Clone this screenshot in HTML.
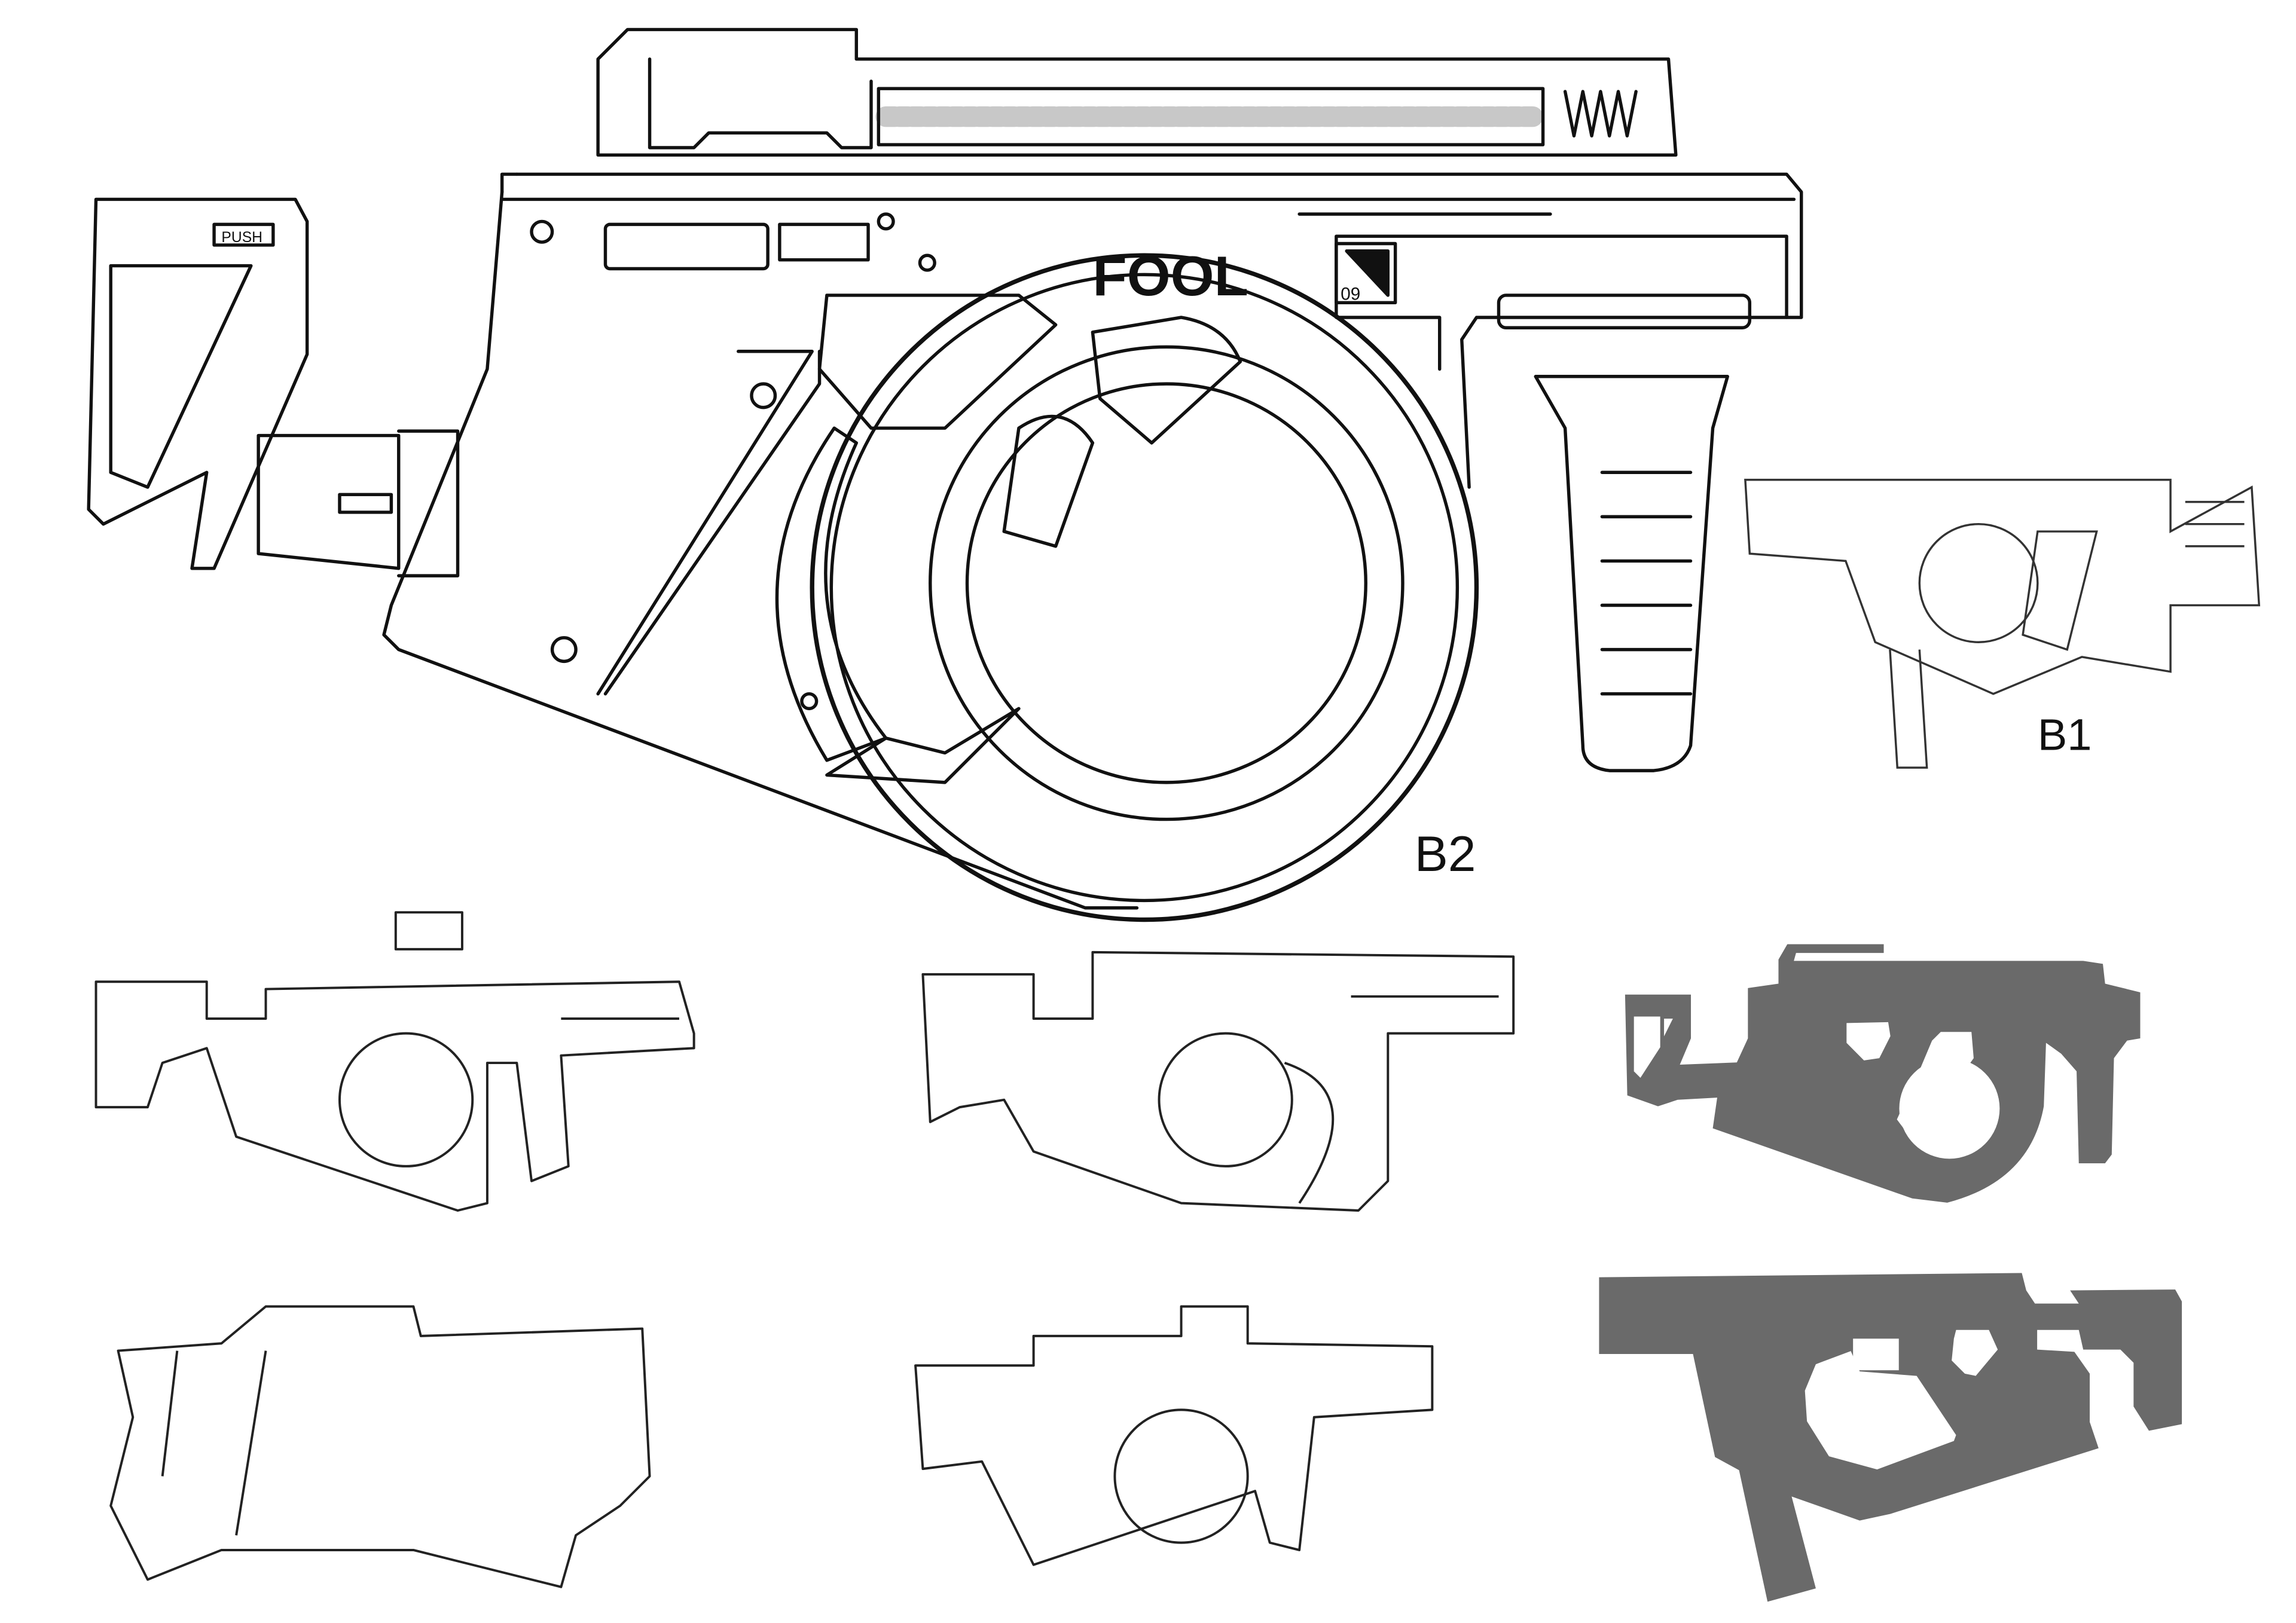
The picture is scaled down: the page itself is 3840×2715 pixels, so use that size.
<!DOCTYPE html>
<html><head><meta charset="utf-8"><style>
html,body{margin:0;padding:0;background:#fff;}
svg{display:block;}
text{font-family:"Liberation Sans",sans-serif;}
</style></head><body>
<svg width="3840" height="2715" viewBox="0 0 1555 1099.4" xmlns="http://www.w3.org/2000/svg">
<rect width="1555" height="1100" fill="#fff"/>
<g fill="none" stroke="#111" stroke-width="2.2" stroke-linejoin="round" stroke-linecap="round">
<path d="M425 20 L580 20 L580 40 L1130 40 L1135 105 L405 105 L405 40 L425 20 Z"/>
<path d="M440 40 L440 100 L470 100 L480 90 L560 90 L570 100 L590 100 L590 55"/>
<rect x="595" y="60" width="450" height="38"/>
<path d="M600 79 h440" stroke-dasharray="6 3" stroke-width="14" stroke="#222" opacity="0.25"/>
<path d="M1060 62 l6 30 l6 -30 l6 30 l6 -30 l6 30 l6 -30 l6 30 l6 -30"/>
<path d="M350 118 L1210 118 L1220 130 L1220 215 L1000 215 L990 230 L995 330"/>
<path d="M340 130 L340 118 L350 118"/>
<path d="M340 130 L330 250 L265 410 L260 430 L270 440 L735 615 L770 615"/>
<path d="M340 135 L1215 135"/>
<rect x="410" y="152" width="110" height="30" rx="3"/>
<rect x="528" y="152" width="60" height="24"/>
<path d="M905 160 L1210 160 L1210 215 M905 160 L905 215 L975 215 L975 250"/>
<rect x="905" y="165" width="40" height="40"/>
<path d="M912 170 L940 170 L940 200 Z" fill="#111"/>
<rect x="1015" y="200" width="170" height="22" rx="5"/>
<text x="740" y="200" font-size="38" font-weight="bold" fill="#111" stroke="none">FOOL</text>
<text x="908" y="203" font-size="12" fill="#111" stroke="none">09</text>
<path d="M880 145 L1050 145"/>
<path d="M500 238 L550 238 L405 470 M555 238 L555 260 L410 470"/>
<circle cx="367" cy="157" r="7"/><circle cx="600" cy="150" r="5"/><circle cx="628" cy="178" r="5"/>
<circle cx="517" cy="268" r="8"/><circle cx="382" cy="440" r="8"/><circle cx="548" cy="475" r="5"/>
<circle cx="775" cy="398" r="225" stroke-width="3"/>
<circle cx="775" cy="398" r="212"/>
<circle cx="790" cy="395" r="160"/>
<circle cx="790" cy="395" r="135"/>
<path d="M560 200 L690 200 L715 220 L640 290 L590 290 L555 250 Z"/>
<path d="M580 300 Q530 410 600 500 L560 515 Q490 400 565 290 Z"/>
<path d="M600 500 L640 510 L690 480 L640 530 L560 525 Z"/>
<path d="M690 290 Q720 270 740 300 L715 370 L680 360 Z"/>
<path d="M740 225 L800 215 Q830 220 840 245 L780 300 L745 270 Z"/>
<path d="M1040 255 L1170 255 L1160 290 L1145 505 Q1140 520 1120 522 L1090 522 Q1072 520 1072 505 L1060 290 Z"/>
<path d="M1085 320 h60 M1085 350 h60 M1085 380 h60 M1085 410 h60 M1085 440 h60 M1085 470 h60"/>
<path d="M65 135 L200 135 L208 150 L208 240 L145 385 L130 385 L140 320 L70 355 L60 345 Z"/>
<path d="M75 180 L170 180 L100 330 L75 320 Z"/>
<rect x="145" y="152" width="40" height="14"/>
<text x="150" y="164" font-size="10" fill="#111" stroke="none">PUSH</text>
<path d="M175 295 L270 295 L270 385 L175 375 Z M270 292 L310 292 L310 390 L270 390"/>
<path d="M230 335 h35 v12 h-35 z"/>
</g>
<text x="958" y="590" font-size="34" fill="#111" font-family="Liberation Sans">B2</text>
<text x="1380" y="508" font-size="30" fill="#111" font-family="Liberation Sans">B1</text>
<g fill="none" stroke="#333" stroke-width="1.4">
<path d="M1182 325 L1470 325 L1470 360 L1525 330 L1530 410 L1470 410 L1470 455 L1410 445 L1350 470 L1270 435 L1250 380 L1185 375 Z"/>
<path d="M1280 440 L1285 520 L1305 520 L1300 440"/>
<circle cx="1340" cy="395" r="40"/>
<path d="M1380 360 L1420 360 L1400 440 L1370 430 Z"/>
<path d="M1480 340 h40 M1480 355 h40 M1480 370 h40"/>
</g>
<g fill="none" stroke="#222" stroke-width="1.6" stroke-linejoin="round">
<path d="M65 665 L140 665 L140 690 L180 690 L180 670 L460 665 L470 700 L470 710 L380 715 L385 790 L360 800 L350 720 L330 720 L330 815 L310 820 L160 770 L140 710 L110 720 L100 750 L65 750 Z"/>
<rect x="268" y="618" width="45" height="25"/>
<circle cx="275" cy="745" r="45"/>
<path d="M380 690 h80"/>
<path d="M625 660 L700 660 L700 690 L740 690 L740 645 L1025 648 L1025 700 L940 700 L940 800 L920 820 L800 815 L700 780 L680 745 L650 750 L630 760 Z"/>
<circle cx="830" cy="745" r="45"/>
<path d="M870 720 Q930 740 880 815" />
<path d="M915 675 h100"/>
<path d="M80 915 L150 910 L180 885 L280 885 L285 905 L435 900 L440 1000 L420 1020 L390 1040 L380 1075 L280 1050 L150 1050 L100 1070 L75 1020 L90 960 Z"/>
<path d="M120 915 L110 1000 M180 915 L160 1040"/>
<path d="M620 925 L700 925 L700 905 L800 905 L800 885 L845 885 L845 910 L970 912 L970 955 L890 960 L880 1050 L860 1045 L850 1010 L700 1060 L680 1020 L665 990 L625 995 Z"/>
<circle cx="800" cy="1000" r="45"/>
</g>
<g fill="#6a6a6a">
<path d="M1100.6 673.7 L1145.2 673.7 L1145.2 703.4 L1137.7 721.2 L1176.3 719.7 L1183.8 703.4 L1183.8 669.3 L1204.5 666.3 L1204.5 650 L1210.5 639.6 L1275.8 639.6 L1275.8 645.5 L1216.4 645.5 L1214.9 650.9 L1410.9 650.9 L1424.2 652.9 L1425.7 666.3 L1449.5 672.2 L1449.5 703.4 L1440.6 704.9 L1431.7 716.8 L1430.2 782.1 L1425.7 788 L1407.9 788 L1406.4 725.7 L1396 713.8 L1385.7 706.4 L1384.2 749.4 Q1375 800 1318.8 814.7 L1295.1 811.8 L1160 764.3 L1163 743.5 L1136.2 745 L1122.9 749.4 L1102.1 742 Z"/>
<path d="M1083 865.2 L1369.3 862.3 L1372.3 874.1 L1378.2 883 L1407.9 883 L1402 874.1 L1473.2 873.5 L1477.7 881.6 L1477.7 964.7 L1455.4 969.2 L1445 952.8 L1445 923.1 L1436.1 914.2 L1410.9 914.2 L1407.9 900.9 L1379.7 900.9 L1379.7 914.2 L1404.9 915.7 L1415.3 930.5 L1415.3 963.2 L1421.3 981 L1280.3 1025.5 L1259.5 1030 L1213.4 1013.7 L1229.8 1076 L1197.1 1085 L1177.8 995.9 L1161.5 987 L1146.6 917.2 L1083 917.2 Z"/>
</g>
<g fill="#fff">
<path d="M1106.6 688.6 L1124.4 688.6 L1124.4 709.4 L1111 730.1 L1106.6 725.7 Z"/>
<path d="M1127 690 L1133 690 L1127 702 Z"/>
<path d="M1250.6 693 L1278.8 692.4 L1280.3 701.9 L1272.8 716.8 L1262.4 718.3 L1250.6 706.4 Z"/>
<circle cx="1320.3" cy="750.9" r="34"/>
<path d="M1308.5 704.9 L1314.4 699 L1335.2 699 L1336.7 716.8 L1320 740 L1298 776 L1284.7 758.3 L1301 722.7 Z"/>
<path d="M1253.5 915.2 L1229.8 924.1 L1222.4 942 L1223.8 962.8 L1238.7 986.5 L1271.3 995.4 L1323.3 976.1 L1324.8 972.1 L1298.1 932 L1259.5 929 Z"/>
<rect x="1255" y="906.8" width="31" height="21.4"/>
<path d="M1324.8 900.9 L1347 900.9 L1353 914.2 L1338.1 932 L1330.7 930.5 L1321.8 921.6 L1323.3 906.8 Z"/>
</g>
</svg>
</body></html>
